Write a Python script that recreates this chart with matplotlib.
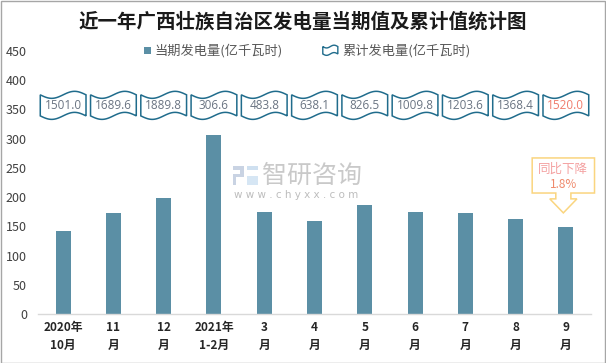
import matplotlib
matplotlib.use("Agg")
import matplotlib.pyplot as plt
import numpy as np
from matplotlib.patches import Polygon, Rectangle
from matplotlib.legend_handler import HandlerBase

plt.rcParams['font.family'] = ['Noto Sans CJK SC', 'DejaVu Sans']

categories = ["2020年\n10月", "11\n月", "12\n月", "2021年\n1-2月", "3\n月", "4\n月",
              "5\n月", "6\n月", "7\n月", "8\n月", "9\n月"]
monthly = [142, 173, 198.5, 306.6, 174.5, 159, 186.5, 175, 173, 163, 149]
cumulative = [1501.0, 1689.6, 1889.8, 306.6, 483.8, 638.1, 826.5, 1009.8, 1203.6, 1368.4, 1520.0]
series_names = ["当期发电量(亿千瓦时)", "累计发电量(亿千瓦时)"]
callout_lines = ["同比下降", "1.8%"]
yticks = [0, 50, 100, 150, 200, 250, 300, 350, 400, 450]

BAR = "#5b8fa5"
FLAG = "#206c8c"
TXT = "#595959"

W, H = 606, 363
fig = plt.figure(figsize=(W / 100, H / 100), dpi=100)
ax = fig.add_axes([38 / W, 1 - 314 / H, (591 - 38) / W, (314 - 51) / H])

x = np.arange(len(categories))
ax.bar(x, monthly, width=0.3, color=BAR, zorder=2)

ax.set_xlim(-0.5, len(categories) - 0.5)
ax.set_ylim(0, 450)
ax.set_yticks(yticks)
ax.set_xticks(x)
ax.set_xticklabels(categories, fontsize=8.5, fontweight='bold', color="#262626", linespacing=1.5)
ax.tick_params(axis='y', length=0, labelsize=9, labelcolor="#404040", pad=8)
ax.tick_params(axis='x', length=0, pad=5)
for s in ['top', 'right', 'left']:
    ax.spines[s].set_visible(False)
ax.spines['bottom'].set_color("#d9d9d9")
ax.spines['bottom'].set_linewidth(1.0)


def wave_box(cx, half_w, y0, y1, amp, n=40):
    t = np.linspace(0, 1, n)
    xs = cx - half_w + 2 * half_w * t
    off = -amp * np.sin(2 * np.pi * t)
    top = np.column_stack([xs, y1 + off])
    bot = np.column_stack([xs[::-1], (y0 + off)[::-1]])
    return np.vstack([top, bot])


# cumulative flags
for i, v in enumerate(cumulative):
    pts = wave_box(i, 0.455, 339, 375, 6)
    ax.add_patch(Polygon(pts, closed=True, facecolor='white', edgecolor=FLAG,
                         linewidth=1.1, zorder=3, clip_on=False))
    col = "#f07c6c" if i == len(cumulative) - 1 else "#6a7482"
    ax.text(i, 357, f"{v:.1f}", ha='center', va='center', fontsize=8.5, color=col,
            zorder=4, family=['Open Sans', 'DejaVu Sans'])

# callout
cx = 9.95
bx0, bx1 = cx - 0.62, cx + 0.62
by0, by1 = 207, 267
sw, hw = 0.15, 0.27
shaft_y, tip_y = 197, 173
call = [(bx0, by1), (bx1, by1), (bx1, by0), (cx + sw, by0), (cx + sw, shaft_y),
        (cx + hw, shaft_y), (cx, tip_y), (cx - hw, shaft_y), (cx - sw, shaft_y),
        (cx - sw, by0), (bx0, by0)]
ax.add_patch(Polygon(call, closed=True, facecolor='white', edgecolor="#fad57f",
                     linewidth=1.1, zorder=5, clip_on=False))
ax.text(cx, 247, callout_lines[0], ha='center', va='center', fontsize=9, color="#f4a0a0", zorder=6)
ax.text(cx, 221, callout_lines[1], ha='center', va='center', fontsize=8.5, color="#ef8a6c", zorder=6)

# watermark
fig.text(262 / W, 1 - 176 / H, "智研咨询", fontsize=18, color="#c4c4c4", va='center', ha='left', alpha=0.9)
fig.text(234 / W, 1 - 195 / H, "w w w . c h y x x . c o m", fontsize=7.5, color="#bdbdbd",
         va='center', ha='left', family=['DejaVu Sans'])
for (lx, ly, lw, lh, c) in [(233, 166, 11, 4, "#c9d3e3"), (240, 166, 4, 10, "#c9d3e3"),
                            (233, 174, 11, 3, "#c9d3e3"), (233, 174, 3, 11, "#c9d3e3"),
                            (247, 166, 11, 4, "#cfe0f0"), (247, 176, 11, 9, "#d6e6f4")]:
    fig.add_artist(Rectangle((lx / W, 1 - (ly + lh) / H), lw / W, lh / H,
                             transform=fig.transFigure, facecolor=c, edgecolor='none'))

# title
fig.text(0.5, 1 - 22 / H, "近一年广西壮族自治区发电量当期值及累计值统计图", ha='center', va='center',
         fontsize=14, fontweight='bold', color="#1a1a1a")


# legend
class FlagHandler(HandlerBase):
    def create_artists(self, legend, orig_handle, xdescent, ydescent, width, height, fontsize, trans):
        t = np.linspace(0, 1, 30)
        w = width * 0.95
        xs = -xdescent + w * t
        off = -height * 0.15 * np.sin(2 * np.pi * t)
        y0, y1 = -ydescent + height * 0.1, -ydescent + height * 0.9
        pts = np.vstack([np.column_stack([xs, y1 + off]), np.column_stack([xs[::-1], (y0 + off)[::-1]])])
        p = Polygon(pts, closed=True, facecolor='white', edgecolor=FLAG, linewidth=1.0, transform=trans)
        return [p]


class SquareHandler(HandlerBase):
    def create_artists(self, legend, orig_handle, xdescent, ydescent, width, height, fontsize, trans):
        s = height * 0.75
        r = Rectangle((-xdescent + width - s, -ydescent + (height - s) / 2), s, s,
                      facecolor=BAR, edgecolor='none', transform=trans)
        return [r]


h1 = Rectangle((0, 0), 1, 1)
h2 = Polygon([[0, 0], [1, 1], [1, 0]])
leg = fig.legend([h1, h2], series_names, loc='center', bbox_to_anchor=(0.5, 1 - 51 / H),
                 ncol=2, frameon=False, fontsize=9.5, handlelength=1.2, handletextpad=0.3,
                 columnspacing=3.0, labelcolor=TXT,
                 handler_map={h1: SquareHandler(), h2: FlagHandler()})

# figure border
fig.add_artist(Rectangle((0.5 / W, 0.5 / H), 1 - 1.5 / W, 1 - 1.5 / H, transform=fig.transFigure,
                         facecolor='none', edgecolor="#a6a6a6", linewidth=1.0))

fig.savefig("out.png", dpi=100)
